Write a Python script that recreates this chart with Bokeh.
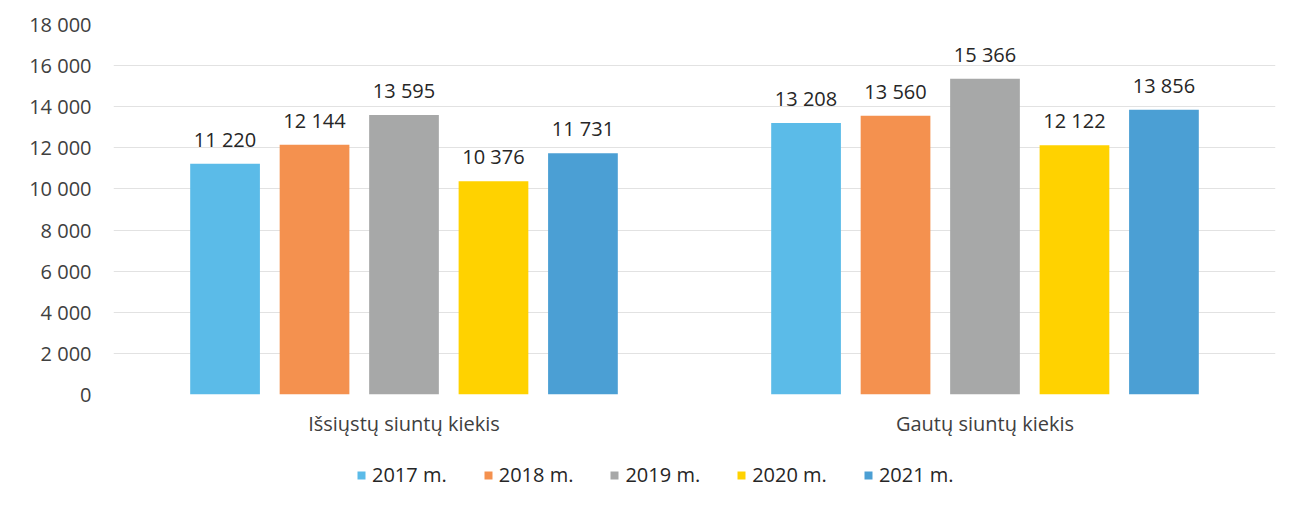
from bokeh.plotting import figure
from bokeh.layouts import column
from bokeh.models import FactorRange, Range1d, Legend, LegendItem, ColumnDataSource, SingleIntervalTicker, CustomJSTickFormatter
from bokeh.transform import dodge
from bokeh.core.properties import value
from bokeh.embed import file_html
from bokeh.resources import INLINE

categories = ["Išsiųstų siuntų kiekis", "Gautų siuntų kiekis"]
years = ["2017 m.", "2018 m.", "2019 m.", "2020 m.", "2021 m."]
v2017 = [11220, 13208]
v2018 = [12144, 13560]
v2019 = [13595, 15366]
v2020 = [10376, 12122]
v2021 = [11731, 13856]
series = [v2017, v2018, v2019, v2020, v2021]
colors = ["#5bbbe8", "#f4914f", "#a7a8a8", "#ffd200", "#4b9fd4"]
offsets = [-0.308, -0.154, 0.0, 0.154, 0.308]

FONT = "Open Sans"
TXT = "#262626"
FS = "20px"

p = figure(x_range=FactorRange(*categories, range_padding=0), y_range=Range1d(0, 18000),
           width=1281, height=446, output_backend="svg", toolbar_location=None,
           min_border_left=113, min_border_right=6, min_border_top=24, min_border_bottom=52)
p.outline_line_color = None

for yr, vals, col, off in zip(years, series, colors, offsets):
    src = ColumnDataSource(dict(cat=categories, val=vals,
                                lab=[f"{v:,}".replace(",", " ") for v in vals]))
    p.vbar(x=dodge("cat", off, range=p.x_range), top="val", width=0.12, source=src,
           fill_color=col, line_color=None)
    p.text(x=dodge("cat", off, range=p.x_range), y="val", text="lab", source=src,
           y_offset=-11, text_align="center", text_baseline="bottom",
           text_font=value(FONT), text_font_size=FS, text_color=TXT)

p.yaxis.ticker = SingleIntervalTicker(interval=2000)
p.yaxis.formatter = CustomJSTickFormatter(code="return tick.toString().replace(/\\B(?=(\\d{3})+(?!\\d))/g, ' ');")
p.yaxis.axis_line_color = None
p.yaxis.major_tick_line_color = None
p.yaxis.minor_tick_line_color = None
p.yaxis.major_label_text_font = FONT
p.yaxis.major_label_text_font_size = FS
p.yaxis.major_label_text_color = "#404040"
p.yaxis.major_label_standoff = 16

p.xaxis.axis_line_color = None
p.xaxis.major_tick_line_color = None
p.xaxis.major_label_text_font = FONT
p.xaxis.major_label_text_font_size = FS
p.xaxis.major_label_text_color = "#404040"
p.xaxis.major_label_standoff = 9

p.xgrid.grid_line_color = None
p.ygrid.grid_line_color = "#e2e2e2"
p.ygrid.grid_line_width = 1

# legend in a separate strip below the chart
lf = figure(x_range=FactorRange(*categories), y_range=Range1d(10**6, 2 * 10**6),
            width=1281, height=56, output_backend="svg", toolbar_location=None,
            min_border=0)
lf.outline_line_color = None
lf.axis.visible = False
lf.grid.grid_line_color = None
items = []
for yr, vals, col in zip(years, series, colors):
    r = lf.vbar(x=categories, top=vals, width=0.1, fill_color=col, line_color=None)
    items.append(LegendItem(label=yr, renderers=[r]))
legend = Legend(items=items, orientation="horizontal", location=(243, 14),
                glyph_width=10, glyph_height=10, label_standoff=6, spacing=36,
                label_text_font=FONT, label_text_font_size=FS, label_text_color=TXT,
                border_line_color=None, background_fill_alpha=0, margin=0, padding=4)
lf.add_layout(legend)

layout = column(p, lf, spacing=0)
open("out.html", "w").write(file_html(layout, INLINE))
